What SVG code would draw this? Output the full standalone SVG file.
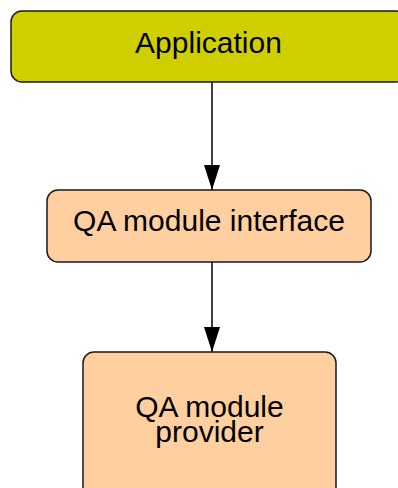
<svg xmlns="http://www.w3.org/2000/svg" width="398" height="488" viewBox="0 0 398 488">
<style>
.box{stroke:#1a1a1a;stroke-width:1.5}
.lbl{font-family:"Liberation Sans",Arial,sans-serif;font-size:30px;fill:#000;text-anchor:middle}
.edge{stroke:#000;stroke-width:1.5;fill:none}
</style>
<defs>
<marker id="ah" markerUnits="userSpaceOnUse" markerWidth="26" markerHeight="16" refX="25" refY="8" orient="auto" viewBox="0 0 26 16">
<path d="M0,0 L25,8 L0,16 Z" fill="#000"/>
</marker>
</defs>
<g id="connectors">
<path class="edge" d="M212,82 V190" marker-end="url(#ah)"/>
<path class="edge" d="M212,262 V352" marker-end="url(#ah)"/>
</g>
<g id="application">
<rect class="box" x="11" y="11" width="396" height="71" rx="11" fill="#cfcf00"/>
<text class="lbl" x="208.5" y="53">Application</text>
</g>
<g id="qa-interface">
<rect class="box" x="47" y="190" width="324" height="72" rx="11" fill="#ffcf9f"/>
<text class="lbl" x="209" y="231">QA module interface</text>
</g>
<g id="qa-provider">
<rect class="box" x="83" y="352" width="253" height="150" rx="11" fill="#ffcf9f"/>
<text class="lbl" x="209.5" y="417">QA module</text>
<text class="lbl" x="209.5" y="442">provider</text>
</g>
</svg>
